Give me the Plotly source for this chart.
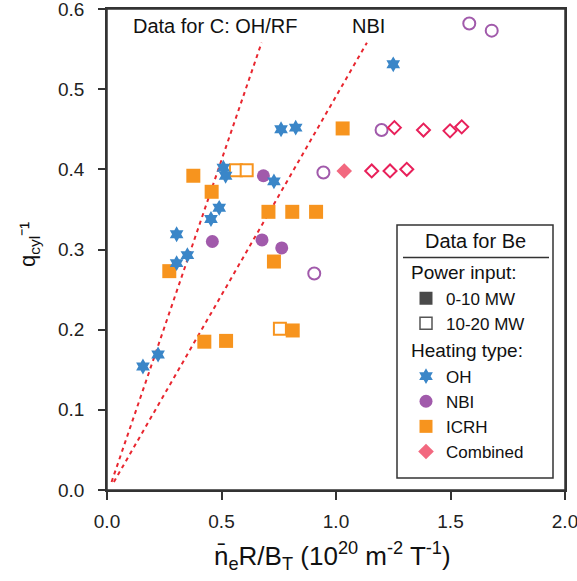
import plotly.graph_objects as go

# ---- data ----
oh_x = [0.157, 0.223, 0.304, 0.304, 0.351, 0.454, 0.490, 0.508, 0.518, 0.729, 0.760, 0.824, 1.250]
oh_y = [0.154, 0.169, 0.319, 0.283, 0.293, 0.338, 0.352, 0.402, 0.392, 0.385, 0.450, 0.452, 0.531]

nbi_lo_x = [0.460, 0.683, 0.677, 0.763]
nbi_lo_y = [0.310, 0.392, 0.312, 0.302]
nbi_hi_x = [0.905, 0.945, 1.199, 1.582, 1.680]
nbi_hi_y = [0.270, 0.396, 0.449, 0.582, 0.573]

icrh_hi_x = [0.755, 0.563, 0.610]
icrh_hi_y = [0.201, 0.399, 0.399]
icrh_lo_x = [0.272, 0.377, 0.457, 0.705, 0.809, 0.913, 0.729, 0.425, 0.520, 0.811, 1.029]
icrh_lo_y = [0.273, 0.392, 0.372, 0.347, 0.347, 0.347, 0.285, 0.185, 0.186, 0.199, 0.451]

comb_lo_x = [1.036]
comb_lo_y = [0.398]
comb_hi_x = [1.255, 1.382, 1.498, 1.549, 1.156, 1.236, 1.309]
comb_hi_y = [0.452, 0.449, 0.448, 0.453, 0.398, 0.398, 0.400]

line_ohrf_x = [0.02, 0.675]
line_ohrf_y = [0.01, 0.558]
line_nbi_x = [0.03, 1.135]
line_nbi_y = [0.01, 0.558]

x_range = [0, 2]
y_range = [0, 0.6]
x_ticks = [0.0, 0.5, 1.0, 1.5, 2.0]
y_ticks = [0.0, 0.1, 0.2, 0.3, 0.4, 0.5, 0.6]

BLUE = "#3a86c8"
PURPLE = "#a15aab"
ORANGE = "#f7941e"
PINK = "#f2687f"
CRIMSON = "#e8205a"
RED = "#e8262f"
FONT = "Liberation Sans, Arial, sans-serif"
TXT = "#111111"
AX = "#333333"

# plot area in pixels (for paper-coordinate helpers)
L, R, T, B = 107, 565, 9, 490
W, H = R - L, B - T
def px(x): return (x - L) / W
def py(y): return (B - y) / H

fig = go.Figure()

# plot frame and tick marks, derived from the axis ranges / tick values
x0, x1 = x_range
y0, y1 = y_range
fig.add_trace(go.Scatter(x=[x0, x1, x1, x0, x0], y=[y0, y0, y1, y1, y0], mode="lines",
                         line=dict(color=AX, width=1.5), showlegend=False,
                         hoverinfo="skip", cliponaxis=False))
tlx = (y1 - y0) * 8 / H   # 8 px tick length on x axis, in y units
tly = (x1 - x0) * 7 / W   # 7 px tick length on y axis, in x units
tx, ty = [], []
for t in x_ticks:
    tx += [t, t, None]
    ty += [y0, y0 - tlx, None]
for t in y_ticks:
    tx += [x0, x0 - tly, None]
    ty += [t, t, None]
fig.add_trace(go.Scatter(x=tx, y=ty, mode="lines", line=dict(color=AX, width=1.5),
                         showlegend=False, hoverinfo="skip", cliponaxis=False))

# dashed reference lines
for lx, ly in [(line_ohrf_x, line_ohrf_y), (line_nbi_x, line_nbi_y)]:
    fig.add_trace(go.Scatter(x=lx, y=ly, mode="lines", showlegend=False,
                             line=dict(color=RED, width=2, dash="4px,4px"), hoverinfo="skip"))

def pts(x, y, symbol, color, size, fill=True, lw=2):
    if fill:
        marker = dict(symbol=symbol, color=color, size=size, line=dict(width=0))
    else:
        marker = dict(symbol=symbol, color="white", size=size, line=dict(width=lw, color=color))
    fig.add_trace(go.Scatter(x=x, y=y, mode="markers", showlegend=False,
                             marker=marker, cliponaxis=False))

pts(icrh_hi_x, icrh_hi_y, "square", ORANGE, 12, fill=False)
pts(icrh_lo_x, icrh_lo_y, "square", ORANGE, 14)
pts(nbi_hi_x, nbi_hi_y, "circle", PURPLE, 12, fill=False)
pts(nbi_lo_x, nbi_lo_y, "circle", PURPLE, 13)
pts(comb_hi_x, comb_hi_y, "diamond", CRIMSON, 10, fill=False)
pts(comb_lo_x, comb_lo_y, "diamond", PINK, 12)
pts(oh_x, oh_y, "hexagram", BLUE, 12)

# legend entries
LEGFONT = 17
def leg(name, group, gtitle, symbol, color, size, fill=True):
    if fill:
        marker = dict(symbol=symbol, color=color, size=size)
    else:
        marker = dict(symbol=symbol, color="white", size=size, line=dict(width=1.5, color=color))
    fig.add_trace(go.Scatter(x=[None], y=[None], mode="markers", name=name,
                             legendgroup=group,
                             legendgrouptitle=dict(text=gtitle, font=dict(size=19, color=TXT, family=FONT)),
                             marker=marker))

leg("0-10 MW", "power", "Power input:", "square", "#4a4a4a", 13)
leg("10-20 MW", "power", "Power input:", "square", "#555555", 12, fill=False)
leg("OH", "heat", "Heating type:", "hexagram", BLUE, 12)
leg("NBI", "heat", "Heating type:", "circle", PURPLE, 13)
leg("ICRH", "heat", "Heating type:", "square", ORANGE, 13)
leg("Combined", "heat", "Heating type:", "diamond", PINK, 12)

# text labels for the carbon lines
fig.add_annotation(x=0.472, y=0.579, text="Data for C: OH/RF", showarrow=False,
                   xanchor="center", yanchor="middle",
                   font=dict(size=20, color=TXT, family=FONT))
fig.add_annotation(x=1.144, y=0.579, text="NBI", showarrow=False,
                   xanchor="center", yanchor="middle",
                   font=dict(size=20, color=TXT, family=FONT))

# axis titles
fig.add_annotation(xref="paper", yref="paper", x=px(332), y=py(556), showarrow=False,
                   xanchor="center", yanchor="middle",
                   text="n\u0304<sub>e</sub>R/B<sub>T</sub> (10<sup>20</sup> m<sup>-2</sup> T<sup>-1</sup>)",
                   font=dict(size=26, color=TXT, family=FONT))
fig.add_annotation(xref="paper", yref="paper", x=px(29), y=py(245), showarrow=False, textangle=-90,
                   xanchor="center", yanchor="middle",
                   text="q<sub>cyl</sub>\u207b\u00b9",
                   font=dict(size=22, color=TXT, family=FONT))

# legend title and box
fig.add_annotation(xref="paper", yref="paper", x=px(475), y=py(241), showarrow=False,
                   xanchor="center", yanchor="middle",
                   text="Data for Be", font=dict(size=20, color=TXT, family=FONT))
fig.add_shape(type="rect", xref="paper", yref="paper",
              x0=px(397), x1=px(553), y0=py(478), y1=py(225),
              line=dict(color=AX, width=1.5), fillcolor="rgba(0,0,0,0)")
fig.add_shape(type="line", xref="paper", yref="paper",
              x0=px(403), x1=px(549), y0=py(257.5), y1=py(257.5),
              line=dict(color=AX, width=1.5))

axis_common = dict(showline=True, linecolor=AX, linewidth=1.5, mirror=True,
                   ticks="outside", tickcolor=AX, tickwidth=1.5,
                   showgrid=False, zeroline=False, automargin=False,
                   ticklabeloverflow="allow",
                   tickfont=dict(size=19, color="#222", family=FONT))

fig.update_xaxes(range=x_range, tickvals=x_ticks, tickformat=".1f", ticklen=8,
                 ticklabelstandoff=5, **axis_common)
fig.update_yaxes(range=y_range, tickvals=y_ticks, tickformat=".1f", ticklen=7,
                 ticklabelstandoff=10, **axis_common)

fig.update_layout(
    width=577, height=581,
    margin=dict(l=L, r=577 - R, t=T, b=581 - B, autoexpand=False),
    paper_bgcolor="white", plot_bgcolor="white",
    font=dict(family=FONT, color=TXT),
    legend=dict(x=px(406), y=py(253), xanchor="left", yanchor="top",
                borderwidth=0, bgcolor="rgba(0,0,0,0)",
                font=dict(size=LEGFONT, color=TXT, family=FONT),
                tracegroupgap=0, itemsizing="trace"),
)

fig.write_html("out.html")
